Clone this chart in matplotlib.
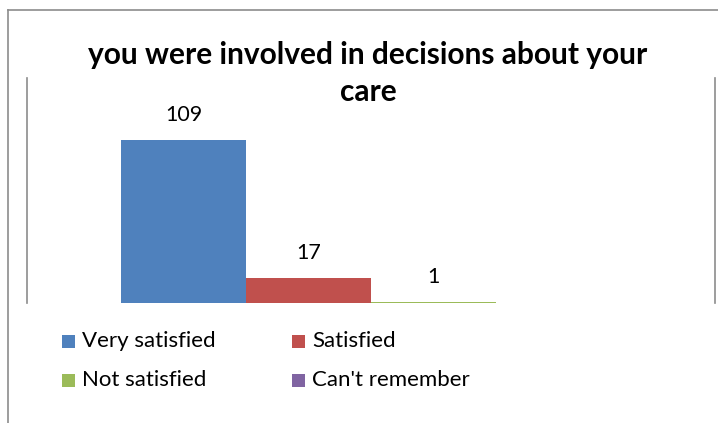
import matplotlib
matplotlib.use("Agg")
import matplotlib.pyplot as plt
from matplotlib.patches import Rectangle
from matplotlib.lines import Line2D

title_lines = ["you were involved in decisions about your", "care"]
categories = ["Very satisfied", "Satisfied", "Not satisfied", "Can't remember"]
values = [109, 17, 1, 0]
colors = ["#4F81BD", "#C0504D", "#9BBB59", "#8064A2"]

plt.rcParams["font.family"] = ["Lato", "DejaVu Sans"]

W, H = 718, 423
fig = plt.figure(figsize=(W / 100, H / 100), dpi=100)

# outer chart frame (top and left edges)
fig.add_artist(Line2D([8 / W, 1.0], [1 - 10 / H, 1 - 10 / H], color="#8c8c8c", lw=1.2))
fig.add_artist(Line2D([8 / W, 8 / W], [0.0, 1 - 10 / H], color="#8c8c8c", lw=1.2))

ax = fig.add_axes([27 / W, 1 - 303 / H, (715 - 27) / W, (303 - 78) / H])
ax.set_xlim(0, 1)
ax.set_ylim(0, 150.5)

n = len(values)
bw = 125 / 688
for i, (v, c) in enumerate(zip(values, colors)):
    x = 0.5 + (i - (n - 1) / 2) * bw
    ax.bar(x, v, width=bw, color=c, linewidth=0)
    if v > 0:
        ax.annotate(str(v), (x, v), xytext=(0, 18), textcoords="offset points",
                    ha="center", va="center", fontsize=15.5, color="#000000")

for s in ["top", "bottom"]:
    ax.spines[s].set_visible(False)
for s in ["left", "right"]:
    ax.spines[s].set_color("#8c8c8c")
    ax.spines[s].set_linewidth(1.2)
ax.set_xticks([])
ax.set_yticks([])

# two-line bold title, each line centred
for line, ty in zip(title_lines, [55, 92]):
    fig.text(368 / W, 1 - ty / H, line, ha="center", va="center", fontsize=21.5,
             fontweight="bold")

# legend in two rows of two
legend_pos = [(62, 341), (292, 341), (62, 380), (292, 380)]
sq = 13
for (lx, ly), name, c in zip(legend_pos, categories, colors):
    fig.add_artist(Rectangle((lx / W, 1 - (ly + sq / 2) / H), sq / W, sq / H,
                             transform=fig.transFigure, color=c, lw=0))
    fig.text((lx + 20) / W, 1 - ly / H, name, ha="left", va="center", fontsize=16)

fig.savefig("out.png", dpi=100)
